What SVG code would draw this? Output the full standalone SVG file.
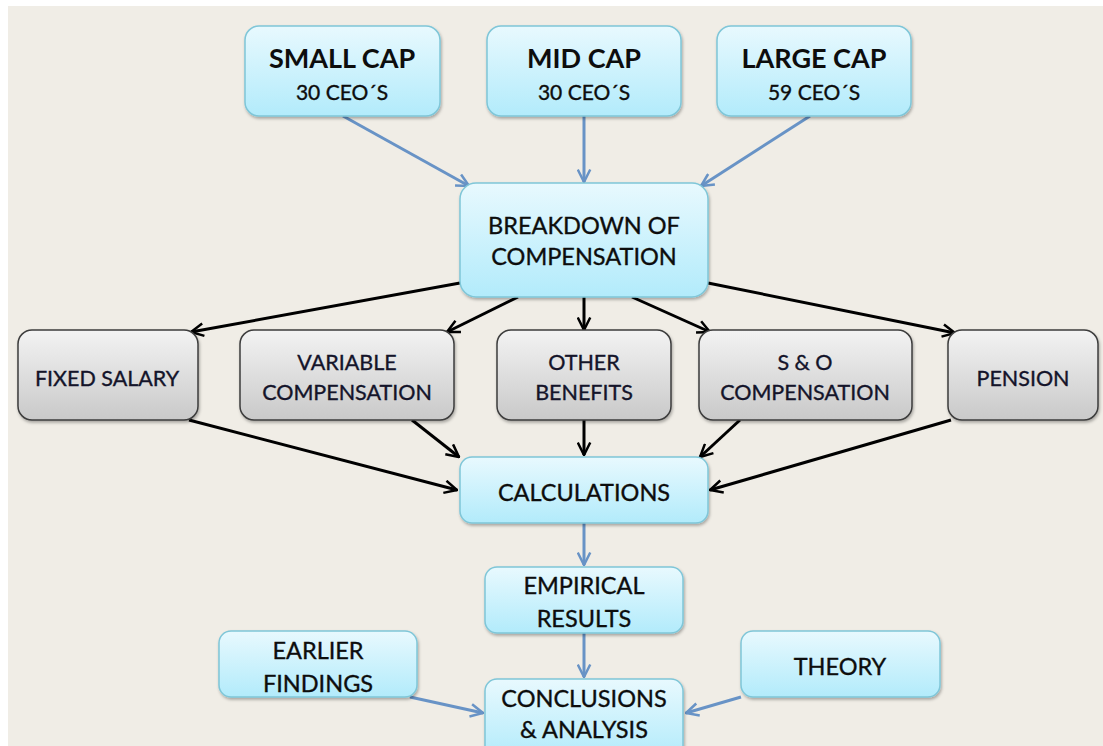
<svg xmlns="http://www.w3.org/2000/svg" width="1103" height="746" viewBox="0 0 1103 746">
  <style>
    .blue { fill: url(#gBlue); stroke: #7fc6d8; stroke-width: 1.5; filter: url(#shadow); }
    .gray { fill: url(#gGray); stroke: #3c3c3c; stroke-width: 1.5; filter: url(#shadow); }
    text { font-family: Lato, "Open Sans", "Liberation Sans", sans-serif; fill: #0d0d0d; stroke: #0d0d0d; stroke-width: 0.35; text-anchor: middle; }
    .t { font-size: 23.5px; }
    .g { font-size: 21.5px; fill: #14142a; stroke: #14142a; }
    .h { font-size: 27px; font-weight: bold; stroke-width: 0; }
    .s { font-size: 21px; }
    .cb { stroke: #6893c6; stroke-width: 3; fill: none; marker-end: url(#ab); }
    .ck { stroke: #000; stroke-width: 3; fill: none; marker-end: url(#ak); }
  </style>
  <defs>
    <linearGradient id="gBlue" x1="0" y1="0" x2="0" y2="1">
      <stop offset="0" stop-color="#e8f9fe"/>
      <stop offset="1" stop-color="#b2ebfb"/>
    </linearGradient>
    <linearGradient id="gGray" x1="0" y1="0" x2="0" y2="1">
      <stop offset="0" stop-color="#f3f3f3"/>
      <stop offset="1" stop-color="#c9c9c9"/>
    </linearGradient>
    <filter id="shadow" x="-10%" y="-10%" width="120%" height="130%">
      <feDropShadow dx="1" dy="2" stdDeviation="1.5" flood-color="#000" flood-opacity="0.3"/>
    </filter>
    <marker id="ab" viewBox="0 0 12 12" refX="11" refY="6" markerWidth="5" markerHeight="5" markerUnits="strokeWidth" orient="auto">
      <path d="M1,1 L11,6 L1,11" fill="none" stroke="#6893c6" stroke-width="2"/>
    </marker>
    <marker id="ak" viewBox="0 0 12 12" refX="11" refY="6" markerWidth="5" markerHeight="5" markerUnits="strokeWidth" orient="auto">
      <path d="M1,1 L11,6 L1,11" fill="none" stroke="#000" stroke-width="2"/>
    </marker>
  </defs>

  <!-- page margin and canvas -->
  <rect width="1103" height="746" fill="#ffffff"/>
  <rect x="8" y="6" width="1095" height="740" fill="#f0ede6"/>

  <g id="connectors">
    <path class="cb" d="M343,116 L469,186"/>
    <path class="cb" d="M584,116 L584,182"/>
    <path class="cb" d="M810,116 L701,186"/>
    <path class="ck" d="M460,283 L191,332"/>
    <path class="ck" d="M518,297 L447,332"/>
    <path class="ck" d="M584,297 L584,330"/>
    <path class="ck" d="M632,297 L710,332"/>
    <path class="ck" d="M708,283 L955,333"/>
    <path class="ck" d="M189,420 L457,490"/>
    <path class="ck" d="M412,420 L459,457"/>
    <path class="ck" d="M584,420 L584,455"/>
    <path class="ck" d="M740,420 L700,457"/>
    <path class="ck" d="M951,420 L710,490"/>
    <path class="cb" d="M584,523 L584,565"/>
    <path class="cb" d="M584,633 L584,677"/>
    <path class="cb" d="M410,697 L483,713"/>
    <path class="cb" d="M741,697 L686,713"/>
  </g>

  <g id="small-cap">
    <rect class="blue" x="245" y="26" width="195" height="90" rx="14"/>
    <text class="h" x="342" y="68">SMALL CAP</text>
    <text class="s" x="342" y="100">30 CEO´S</text>
  </g>
  <g id="mid-cap">
    <rect class="blue" x="487" y="26" width="194" height="90" rx="14"/>
    <text class="h" x="584" y="68">MID CAP</text>
    <text class="s" x="584" y="100">30 CEO´S</text>
  </g>
  <g id="large-cap">
    <rect class="blue" x="717" y="26" width="194" height="90" rx="14"/>
    <text class="h" x="814" y="68">LARGE CAP</text>
    <text class="s" x="814" y="100">59 CEO´S</text>
  </g>
  <g id="breakdown">
    <rect class="blue" x="460" y="183" width="248" height="114" rx="16"/>
    <text class="t" x="584" y="234">BREAKDOWN OF</text>
    <text class="t" x="584" y="265">COMPENSATION</text>
  </g>

  <g id="fixed-salary">
    <rect class="gray" x="18" y="330" width="180" height="90" rx="14"/>
    <text class="g" x="107" y="386">FIXED SALARY</text>
  </g>
  <g id="variable-compensation">
    <rect class="gray" x="240" y="330" width="214" height="90" rx="14"/>
    <text class="g" x="347" y="370">VARIABLE</text>
    <text class="g" x="347" y="400">COMPENSATION</text>
  </g>
  <g id="other-benefits">
    <rect class="gray" x="497" y="330" width="174" height="90" rx="14"/>
    <text class="g" x="584" y="370">OTHER</text>
    <text class="g" x="584" y="400">BENEFITS</text>
  </g>
  <g id="so-compensation">
    <rect class="gray" x="699" y="330" width="213" height="90" rx="14"/>
    <text class="g" x="805" y="370">S &amp; O</text>
    <text class="g" x="805" y="400">COMPENSATION</text>
  </g>
  <g id="pension">
    <rect class="gray" x="948" y="330" width="150" height="90" rx="14"/>
    <text class="g" x="1023" y="386">PENSION</text>
  </g>

  <g id="calculations">
    <rect class="blue" x="460" y="457" width="248" height="66" rx="12"/>
    <text class="t" x="584" y="501">CALCULATIONS</text>
  </g>
  <g id="empirical-results">
    <rect class="blue" x="485" y="567" width="198" height="66" rx="12"/>
    <text class="t" x="584" y="594">EMPIRICAL</text>
    <text class="t" x="584" y="627">RESULTS</text>
  </g>
  <g id="earlier-findings">
    <rect class="blue" x="219" y="631" width="198" height="66" rx="12"/>
    <text class="t" x="318" y="659">EARLIER</text>
    <text class="t" x="318" y="692">FINDINGS</text>
  </g>
  <g id="theory">
    <rect class="blue" x="741" y="631" width="199" height="66" rx="12"/>
    <text class="t" x="840" y="675">THEORY</text>
  </g>
  <g id="conclusions">
    <rect class="blue" x="485" y="679" width="198" height="80" rx="12"/>
    <text class="t" x="584" y="707">CONCLUSIONS</text>
    <text class="t" x="584" y="738">&amp; ANALYSIS</text>
  </g>
</svg>
